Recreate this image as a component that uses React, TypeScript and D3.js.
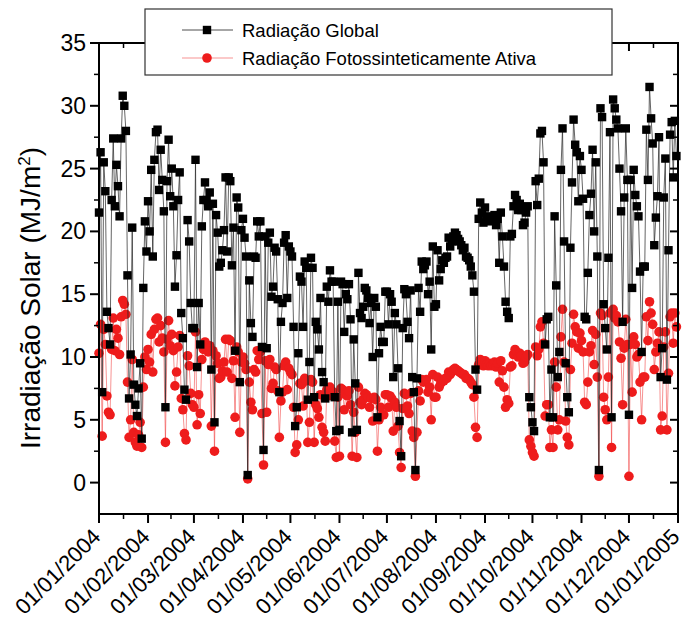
import React from "react";
import * as d3 from "d3";

const startDate = "01/01/2004";

// Radiação Global (MJ/m²), daily, Jan..Dec 2004
const globalRad = [
  21.5, 26.3, 7.2, 25.5, 23.2, 13.6, 12.3, 11.0, 22.5, 27.4, 22.0, 25.3, 23.6, 21.2, 27.4, 30.8, 30.0, 28.0, 16.5, 6.7, 10.2, 20.3, 7.8, 6.2, 5.3, 7.5, 9.5, 3.5, 15.5, 20.8, 18.4,
  22.4, 20.0, 24.9, 18.0, 25.7, 27.9, 28.1, 23.3, 26.5, 24.1, 21.6, 6.0, 24.0, 27.3, 22.8, 25.0, 22.0, 15.6, 18.1, 22.5, 24.7, 13.5, 11.5, 7.4, 6.6, 20.9, 19.2, 14.3, 12.3,
  12.3, 25.7, 9.2, 14.3, 11.0, 20.4, 22.5, 23.9, 22.5, 22.0, 23.1, 9.0, 22.2, 4.8, 21.3, 19.9, 17.2, 17.5, 18.5, 20.1, 24.3, 18.4, 24.3, 24.0, 17.3, 20.3, 10.5, 22.7, 21.9, 8.0, 20.1,
  21.0, 19.5, 18.0, 0.6, 16.1, 12.7, 11.6, 18.0, 17.9, 20.8, 19.6, 20.8, 10.8, 2.6, 19.6, 10.7, 19.1, 19.9, 14.8, 15.6, 18.7, 18.4, 14.6, 7.2, 12.8, 14.3, 19.1, 19.7, 14.7, 18.8,
  18.4, 18.0, 12.4, 4.5, 6.0, 10.3, 16.4, 16.0, 12.4, 17.6, 17.1, 6.6, 9.6, 17.9, 17.1, 6.8, 12.8, 12.2, 10.6, 14.7, 8.8, 8.0, 6.7, 15.6, 14.4, 16.9, 16.0, 16.0, 6.8, 4.1, 14.4,
  4.2, 16.0, 15.8, 12.0, 15.0, 14.6, 15.8, 13.0, 4.0, 11.4, 7.9, 4.2, 16.7, 13.5, 13.1, 14.0, 15.5, 15.3, 14.7, 12.7, 14.3, 10.0, 14.7, 14.0, 5.2, 10.3, 12.4, 11.2, 11.2, 15.2,
  15.2, 12.6, 15.0, 14.4, 8.4, 13.5, 12.6, 9.1, 4.9, 2.1, 12.3, 15.4, 15.0, 12.8, 11.5, 15.3, 8.4, 7.2, 1.0, 8.3, 15.5, 13.6, 17.6, 17.0, 17.3, 17.6, 15.0, 16.0, 10.6, 18.8, 14.0,
  14.2, 18.5, 16.1, 17.0, 17.7, 17.5, 17.9, 18.0, 19.5, 18.8, 19.2, 19.6, 19.9, 19.7, 19.4, 19.2, 18.9, 18.5, 18.7, 18.0, 17.9, 17.7, 17.2, 16.5, 15.2, 9.0, 7.4, 21.0, 22.3, 21.5, 20.7,
  21.9, 21.0, 20.8, 21.2, 20.9, 21.0, 21.3, 20.5, 21.0, 17.5, 21.5, 19.6, 17.2, 14.4, 13.6, 13.1, 19.6, 19.8, 22.0, 22.9, 22.5, 21.7, 22.2, 21.7, 20.5, 20.7, 21.5, 22.0, 6.8, 6.0,
  4.8, 4.1, 24.0, 22.1, 24.2, 27.8, 28.0, 25.5, 11.0, 13.0, 13.2, 5.2, 9.0, 5.2, 21.2, 15.7, 8.4, 10.4, 24.9, 28.2, 19.2, 9.5, 6.8, 5.6, 18.7, 23.9, 28.9, 26.9, 26.3, 22.4, 26.0,
  24.9, 22.6, 13.2, 13.0, 16.7, 21.3, 23.0, 26.5, 20.0, 25.5, 18.0, 1.0, 29.8, 29.1, 14.2, 12.3, 10.6, 17.9, 27.9, 5.2, 30.5, 29.8, 28.9, 28.2, 25.0, 21.6, 12.8, 22.7, 28.2, 24.1,
  5.4, 24.1, 15.5, 24.9, 22.9, 22.0, 21.2, 16.8, 10.4, 17.2, 17.2, 28.1, 24.1, 31.5, 29.0, 27.0, 18.9, 21.1, 22.8, 27.5, 8.4, 10.7, 22.7, 25.8, 8.2, 18.5, 27.7, 28.7, 24.3, 28.8, 26.0,
];

// Radiação Fotossinteticamente Ativa (MJ/m²), daily, Jan..Dec 2004
const parRad = [
  10.3, 12.6, 3.7, 12.2, 11.0, 6.9, 5.6, 5.4, 10.6, 13.1, 10.5, 12.2, 11.5, 10.2, 13.2, 14.5, 14.2, 13.4, 8.0, 3.6, 5.0, 9.8, 4.0, 3.2, 2.9, 3.8, 4.8, 2.8, 7.6, 10.0, 9.0,
  10.6, 9.6, 11.8, 8.8, 12.2, 13.0, 13.1, 11.2, 12.5, 11.5, 10.4, 3.2, 11.4, 12.9, 10.9, 11.8, 10.5, 7.7, 8.8, 10.8, 11.7, 6.7, 5.8, 3.9, 3.4, 10.1, 9.3, 7.1, 6.2,
  6.0, 12.0, 4.6, 7.0, 5.5, 9.8, 10.6, 11.2, 10.7, 10.4, 10.9, 4.5, 10.5, 2.5, 10.1, 9.5, 8.3, 8.4, 8.9, 9.6, 11.4, 8.8, 11.4, 11.3, 8.3, 9.7, 5.2, 10.8, 10.4, 4.0, 9.6,
  10.0, 9.5, 9.0, 0.3, 8.0, 6.4, 5.8, 9.0, 8.8, 10.5, 9.8, 10.4, 5.5, 1.4, 9.7, 5.6, 9.4, 9.8, 7.5, 7.9, 9.2, 9.0, 7.3, 3.6, 6.5, 7.2, 9.3, 9.6, 7.4, 9.1,
  8.8, 8.6, 6.0, 2.4, 3.0, 5.0, 7.9, 7.8, 6.1, 8.3, 8.1, 3.2, 4.8, 8.2, 8.0, 3.2, 6.2, 5.9, 5.2, 7.0, 4.4, 4.0, 3.3, 7.4, 6.9, 7.6, 7.3, 7.2, 3.3, 2.0, 6.8,
  2.1, 7.5, 7.4, 5.8, 7.0, 6.9, 7.3, 6.2, 2.1, 5.6, 4.0, 2.0, 7.6, 6.4, 6.2, 6.6, 7.1, 7.0, 6.8, 6.0, 6.7, 4.9, 6.8, 6.6, 2.5, 5.0, 6.0, 5.4, 5.4, 7.0,
  7.0, 6.0, 6.9, 6.7, 4.1, 6.4, 6.0, 4.5, 2.4, 1.2, 5.9, 7.1, 7.0, 6.1, 5.5, 7.1, 4.1, 3.6, 0.5, 4.0, 7.3, 6.5, 8.2, 8.0, 8.1, 8.2, 7.2, 7.6, 5.0, 8.6, 6.8,
  6.8, 8.4, 7.6, 7.9, 8.2, 8.1, 8.3, 8.3, 8.8, 8.6, 8.8, 9.0, 9.1, 9.0, 8.9, 8.8, 8.7, 8.6, 8.6, 8.3, 8.3, 8.2, 8.0, 7.8, 6.8, 4.4, 3.6, 9.4, 9.8, 9.6, 9.3,
  9.7, 9.4, 9.3, 9.5, 9.3, 9.4, 9.6, 9.2, 9.5, 8.0, 9.7, 8.9, 7.6, 6.0, 6.6, 6.3, 9.2, 9.3, 10.2, 10.6, 10.4, 10.0, 10.3, 10.1, 9.5, 9.6, 10.0, 10.2, 3.4, 2.9,
  2.4, 2.1, 10.8, 10.1, 10.6, 12.4, 12.8, 11.1, 5.3, 6.2, 6.2, 2.8, 4.2, 2.8, 9.6, 7.6, 4.2, 5.0, 11.6, 13.8, 9.6, 4.9, 3.6, 3.0, 9.0, 11.1, 13.4, 12.4, 12.0, 10.7, 11.9,
  11.3, 10.4, 6.4, 6.2, 8.0, 10.4, 10.9, 12.1, 9.4, 11.8, 8.4, 0.5, 13.5, 13.3, 6.8, 5.8, 5.0, 8.4, 13.5, 2.8, 13.8, 13.1, 13.3, 12.8, 11.2, 9.9, 6.2, 10.7, 13.0, 11.0,
  0.5, 11.0, 7.2, 11.6, 11.0, 10.0, 10.2, 8.0, 5.0, 8.4, 8.4, 13.2, 11.3, 14.4, 13.5, 12.6, 9.0, 10.4, 11.1, 12.0, 4.2, 5.3, 10.8, 12.0, 4.2, 8.7, 13.2, 13.5, 11.1, 13.5, 12.4,
];

const xTickLabels = [
  "01/01/2004", "01/02/2004", "01/03/2004", "01/04/2004", "01/05/2004", "01/06/2004", "01/07/2004",
  "01/08/2004", "01/09/2004", "01/10/2004", "01/11/2004", "01/12/2004", "01/01/2005",
];
const yTicks = [0, 5, 10, 15, 20, 25, 30, 35];
const yDomain = [-2.5, 35];
const seriesNames = ["Radiação Global", "Radiação Fotossinteticamente Ativa"];
const yTitle = "Irradiação Solar (MJ/m";

const W = 687;
const H = 622;
const PL = 99, PR = 678, PT = 43, PB = 514;
const FONT = "'Liberation Sans', Arial, Helvetica, sans-serif";
const RED = "#ee1c1c";

export default function App() {
  const parse = d3.timeParse("%d/%m/%Y");
  const t0 = parse(startDate) as Date;
  const dates = globalRad.map((_, i) => d3.timeDay.offset(t0, i));
  const tickDates = xTickLabels.map((s) => parse(s) as Date);
  const x = d3.scaleTime().domain([tickDates[0], tickDates[tickDates.length - 1]]).range([PL, PR]);
  const y = d3.scaleLinear().domain(yDomain).range([PB, PT]);
  const line = d3
    .line<number>()
    .x((_, i) => x(dates[i]))
    .y((v) => y(v));
  const minorX = tickDates.slice(1).map((d, i) => new Date((tickDates[i].getTime() + d.getTime()) / 2));
  const minorY = yTicks.slice(0, -1).map((v) => v + 2.5);

  return (
    <svg width={W} height={H} style={{ position: "absolute", left: 0, top: 0, background: "#fff" }} fontFamily={FONT}>
      <rect x={0} y={0} width={W} height={H} fill="#fff" />
      {/* series: PAR first, then global on top */}
      <path d={line(parRad) || ""} fill="none" stroke={RED} strokeWidth={0.6} strokeOpacity={0.8} />
      {parRad.map((v, i) => (
        <circle key={"p" + i} cx={x(dates[i])} cy={y(v)} r={4.8} fill={RED} />
      ))}
      <path d={line(globalRad) || ""} fill="none" stroke="#222" strokeWidth={0.7} />
      {globalRad.map((v, i) => (
        <rect key={"g" + i} x={x(dates[i]) - 4.2} y={y(v) - 4.2} width={8.4} height={8.4} fill="#000" />
      ))}

      {/* frame */}
      <rect x={PL} y={PT} width={PR - PL} height={PB - PT} fill="none" stroke="#000" strokeWidth={2} />

      {/* y ticks */}
      {yTicks.map((v) => (
        <g key={"yt" + v}>
          <line x1={PL - 9} x2={PL} y1={y(v)} y2={y(v)} stroke="#000" strokeWidth={2} />
          <line x1={PR} x2={PR - 8} y1={y(v)} y2={y(v)} stroke="#000" strokeWidth={2} />
          <text x={PL - 13} y={y(v)} textAnchor="end" dominantBaseline="central" fontSize={23}>
            {v}
          </text>
        </g>
      ))}
      {minorY.map((v) => (
        <g key={"ym" + v}>
          <line x1={PL - 5} x2={PL} y1={y(v)} y2={y(v)} stroke="#000" strokeWidth={1.5} />
          <line x1={PR} x2={PR - 5} y1={y(v)} y2={y(v)} stroke="#000" strokeWidth={1.5} />
        </g>
      ))}

      {/* x ticks */}
      {tickDates.map((d, i) => (
        <g key={"xt" + i}>
          <line x1={x(d)} x2={x(d)} y1={PB} y2={PB + 9} stroke="#000" strokeWidth={2} />
          <line x1={x(d)} x2={x(d)} y1={PT} y2={PT + 8} stroke="#000" strokeWidth={2} />
          <text
            transform={`translate(${x(d) + 3},${PB + 24}) rotate(-45)`}
            textAnchor="end"
            fontSize={22}
          >
            {xTickLabels[i]}
          </text>
        </g>
      ))}
      {minorX.map((d, i) => (
        <g key={"xm" + i}>
          <line x1={x(d)} x2={x(d)} y1={PB} y2={PB + 5} stroke="#000" strokeWidth={1.5} />
          <line x1={x(d)} x2={x(d)} y1={PT} y2={PT + 5} stroke="#000" strokeWidth={1.5} />
        </g>
      ))}

      {/* y title */}
      <text transform={`translate(40,298) rotate(-90)`} textAnchor="middle" fontSize={28}>
        {yTitle}
        <tspan dy={-10} fontSize={17}>2</tspan>
        <tspan dy={10}>)</tspan>
      </text>

      {/* legend */}
      <rect x={145} y={9} width={467} height={66} fill="#fff" stroke="#333" strokeWidth={1.2} />
      <line x1={182} x2={233} y1={30} y2={30} stroke="#222" strokeWidth={0.8} />
      <rect x={207 - 4.2} y={30 - 4.2} width={8.4} height={8.4} fill="#000" />
      <text x={242} y={37} fontSize={18.5}>
        {seriesNames[0]}
      </text>
      <line x1={182} x2={233} y1={58} y2={58} stroke={RED} strokeWidth={0.6} strokeOpacity={0.8} />
      <circle cx={207} cy={58} r={4.8} fill={RED} />
      <text x={242} y={65} fontSize={18.5}>
        {seriesNames[1]}
      </text>
    </svg>
  );
}
